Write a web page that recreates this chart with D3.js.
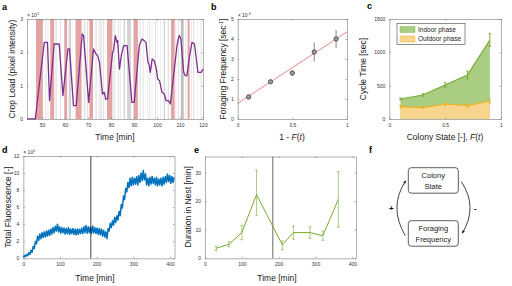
<!DOCTYPE html>
<html>
<head>
<meta charset="utf-8">
<script src="https://cdn.jsdelivr.net/npm/d3@7"></script>
<style>
  body { margin: 0; background: #fff; }
  svg { display: block; font-family: "Liberation Sans", Arial, sans-serif; }
</style>
</head>
<body>
<script>
// ***** DATA *****

// a: crop load over time (x10^5)
const cropTime = [43.5, 47.1, 51.0, 52.4, 53.3, 55.3, 57.5, 59.1, 61.3, 62.0, 63.7, 64.9, 67.5, 68.1, 70.3, 72.4,
  73.5, 74.2, 75.0, 76.3, 77.1, 77.7, 78.5, 80.7, 81.1, 81.9, 82.6, 82.9, 83.7, 84.5, 85.5, 87.0, 89.1, 90.1,
  92.3, 93.5, 94.5, 95.2, 96.1, 96.5, 97.1, 97.9, 98.8, 99.7, 100.3, 101.1, 102.2, 103.2, 103.9, 105.0, 105.8,
  108.7, 109.4, 109.8, 110.4, 111.6, 112.3, 113.0, 114.2, 115.2, 116.3, 117.8, 119.2, 120];
const cropLoad = [0, 0, 2.3, 2.3, 0.55, 2.25, 2.25, 0.7, 2.1, 2.1, 0.4, 0.4, 2.55, 2.5, 0.5, 2.1,
  1.95, 1.9, 1.7, 0.75, 0.8, 0.6, 0.6, 2.0, 2.05, 2.5, 2.3, 2.35, 1.5, 1.9, 2.2, 2.2, 0.5, 0.5,
  2.2, 2.4, 2.35, 2.3, 1.7, 1.65, 1.4, 1.8, 1.75, 1.5, 1.2, 1.15, 0.8, 0.75, 0.55, 0.55, 0.45,
  2.2, 2.45, 2.5, 2.4, 1.4, 1.3, 1.3, 1.9, 2.3, 2.25, 1.4, 1.4, 1.5];
const outdoorBands = [[47.4, 50.4], [53.6, 55.3], [59.7, 60.9], [64.6, 67.2], [70.6, 72.2], [78.3, 80.6],
  [89.8, 91.7], [106.1, 107.7], [113.3, 114.2]];
// [start, end, shade]
const otherBands = [[51.6, 51.9, 1], [52.5, 52.8, 0], [55.8, 56.5, 0], [57.9, 58.2, 1], [61.6, 62.6, 1],
  [62.9, 63.2, 0], [68.1, 69.0, 0], [69.7, 70.0, 1], [73.2, 73.9, 0], [74.7, 75.0, 1], [75.3, 76.2, 0],
  [76.7, 77.0, 1], [81.1, 81.9, 0], [83.2, 83.5, 1], [83.9, 84.2, 0], [85.5, 86.1, 1], [87.0, 88.7, 1],
  [92.4, 93.0, 0], [93.8, 94.1, 1], [95.6, 95.9, 0], [96.7, 97.0, 1], [97.7, 98.0, 0], [99.2, 99.5, 1],
  [99.9, 100.2, 0], [101.3, 101.6, 0], [102.9, 103.5, 1], [104.2, 104.5, 0], [104.9, 105.2, 1],
  [108.0, 108.4, 0], [109.3, 109.6, 1], [110.4, 111.6, 2], [112.3, 112.7, 0], [114.8, 115.2, 0],
  [115.8, 116.1, 1], [117.6, 117.9, 0], [119.0, 119.3, 1]];
const cropTicksX = [50, 60, 70, 80, 90, 100, 110, 120];
const cropTicksY = [0, 1, 2, 3];

// b: foraging frequency (x10^-3) vs 1 - F(t)
const freqState = [0.1, 0.3, 0.5, 0.7, 0.9];
const freqValue = [1.1, 1.86, 2.3, 3.35, 4.0];
const freqErr = [0.1, 0.1, 0.15, 0.47, 0.45];
const fitEnds = [[0, 0.78], [1, 4.36]];

// c: cycle time
const cycleState = [0.1, 0.3, 0.5, 0.7, 0.9];
const indoorTime = [300, 360, 510, 660, 1185];
const indoorErr = [15, 20, 35, 60, 95];
const outdoorTime = [185, 170, 225, 200, 270];
const outdoorErr = [20, 15, 25, 25, 30];

// d: total fluorescence (x10^5), one sample every 3 min from t = 0
const fluorStep = 3;
const fluorValues = [0.1, 0.35, 0.2, 0.45, 0.3, 0.65, 0.45, 0.95, 0.7, 1.4, 1.15, 2.0, 1.7, 2.6, 2.1, 2.85,
  2.3, 3.0, 2.45, 3.1, 2.5, 3.2, 2.6, 3.3, 2.7, 3.45, 2.85, 3.6, 3.0, 3.75, 3.2, 4.0, 3.1, 3.7, 2.95, 3.6,
  3.0, 3.55, 2.85, 3.5, 2.9, 3.6, 2.8, 3.45, 2.9, 3.5, 2.8, 3.4, 2.75, 3.45, 2.8, 3.4, 2.9, 3.55, 2.9, 3.7,
  3.0, 3.85, 2.95, 3.7, 3.0, 3.65, 2.9, 3.8, 3.0, 3.6, 2.9, 3.55, 2.8, 3.5, 2.75, 3.45, 2.6, 3.3, 2.5, 3.1,
  2.3, 3.5, 3.2, 4.1, 3.6, 4.4, 3.9, 4.8, 4.2, 5.0, 4.5, 5.5, 5.0, 6.3, 5.9, 7.3, 6.9, 8.2, 7.8, 8.9,
  8.3, 9.4, 8.5, 9.5, 8.6, 9.4, 8.7, 9.6, 8.6, 9.7, 8.9, 10.0, 9.1, 10.3, 9.2, 9.9, 8.6, 9.4, 8.5, 9.5,
  8.7, 9.6, 8.8, 9.4, 8.6, 9.5, 8.5, 9.3, 8.6, 9.4, 8.5, 9.5, 8.7, 9.6, 8.9, 9.9, 9.0, 9.7, 8.8, 9.6,
  8.9, 9.5];
const switchTime = 184;

// e: duration in nest
const nestTime = [30, 65, 100, 140, 210, 240, 285, 320, 362];
const nestDur = [3.5, 4.9, 9.0, 22.3, 4.7, 9.0, 9.0, 7.9, 20.6];
const nestLo = [2.7, 4.0, 6.5, 14.9, 3.0, 6.7, 7.0, 6.3, 10.9];
const nestHi = [4.3, 5.8, 11.5, 30.8, 6.1, 11.3, 11.0, 9.5, 30.3];

// ***** STYLE *****
const axisColor = '#7a7a7a';
const tickTextColor = '#333';
const purple = '#7e2f8e';
const blue = '#0072bd';
const green = '#77ac30';
const orange = '#edb120';
const shades = ['#e8e8e8', '#d4d4d4', '#bdbdbd'];

const svg = d3.select('body').append('svg').attr('width', 512).attr('height', 286);
svg.append('rect').attr('width', 512).attr('height', 286).attr('fill', '#fff');

function drawAxes(g, x, y, xTicks, yTicks) {
  const tick = 1.6;
  const [xl, xr] = x.range();
  const [yb, yt] = y.range();
  const styleAxis = (sel) => {
    sel.attr('font-size', null).attr('font-family', null);
    sel.selectAll('.domain, .tick line').attr('stroke', axisColor).attr('stroke-width', 0.6);
    sel.selectAll('text').attr('fill', tickTextColor).style('font-size', '5px');
  };
  g.append('g').attr('transform', `translate(0,${yb})`)
    .call(d3.axisBottom(x).tickValues(xTicks).tickSize(-tick).tickSizeOuter(0).tickPadding(4.5)
      .tickFormat(d3.format('')))
    .call(styleAxis);
  g.append('g').attr('transform', `translate(0,${yt})`)
    .call(d3.axisTop(x).tickValues(xTicks).tickSize(-tick).tickSizeOuter(0).tickFormat(''))
    .call(styleAxis);
  g.append('g').attr('transform', `translate(${xl},0)`)
    .call(d3.axisLeft(y).tickValues(yTicks).tickSize(-tick).tickSizeOuter(0).tickPadding(4)
      .tickFormat(d3.format('')))
    .call(styleAxis);
  g.append('g').attr('transform', `translate(${xr},0)`)
    .call(d3.axisRight(y).tickValues(yTicks).tickSize(-tick).tickSizeOuter(0).tickFormat(''))
    .call(styleAxis);
}

function addExponent(g, x, y, exp) {
  const t = g.append('text').attr('x', x).attr('y', y).attr('fill', tickTextColor).style('font-size', '5px');
  t.append('tspan').text('\u00d7 10');
  t.append('tspan').attr('dy', -2).style('font-size', '3.6px').text(exp);
}

function xLabel(g, x, y, text) {
  return g.append('text').attr('x', x).attr('y', y).attr('text-anchor', 'middle')
    .style('font-size', '8.5px').attr('fill', '#222').text(text);
}

function yLabel(g, x, y, text) {
  return g.append('text').attr('transform', `translate(${x},${y}) rotate(-90)`)
    .attr('text-anchor', 'middle').attr('dy', '0.35em')
    .style('font-size', '8.5px').attr('fill', '#222').text(text);
}

function panelLetter(x, y, letter) {
  svg.append('text').attr('x', x).attr('y', y).style('font-size', '9px').style('font-weight', 'bold')
    .text(letter);
}

// ***** PANEL A *****
{
  const g = svg.append('g');
  const x = d3.scaleLinear().domain([43.5, 120]).range([27, 203]);
  const y = d3.scaleLinear().domain([0, 3]).range([119, 19]);
  g.selectAll('.gray-band').data(otherBands).enter().append('rect')
    .attr('x', d => x(d[0])).attr('width', d => x(d[1]) - x(d[0]))
    .attr('y', y(3)).attr('height', y(0) - y(3)).attr('fill', d => shades[d[2]]);
  g.selectAll('.red-band').data(outdoorBands).enter().append('rect')
    .attr('x', d => x(d[0])).attr('width', d => x(d[1]) - x(d[0]))
    .attr('y', y(3)).attr('height', y(0) - y(3)).attr('fill', '#e4a3a3');
  g.append('path').datum(d3.zip(cropTime, cropLoad))
    .attr('d', d3.line().x(d => x(d[0])).y(d => y(d[1])))
    .attr('fill', 'none').attr('stroke', purple).attr('stroke-width', 1.3).attr('stroke-linejoin', 'round');
  drawAxes(g, x, y, cropTicksX, cropTicksY);
  addExponent(g, 27, 16.5, '5');
  yLabel(g, 12, 69, 'Crop Load (pixel intensity)');
  xLabel(g, 115, 139.5, 'Time [min]');
  panelLetter(2, 10, 'a');
}

// ***** PANEL B *****
{
  const g = svg.append('g');
  const x = d3.scaleLinear().domain([0, 1]).range([237.7, 347]);
  const y = d3.scaleLinear().domain([0, 5]).range([119, 19]);
  g.append('path').datum(fitEnds)
    .attr('d', d3.line().x(d => x(d[0])).y(d => y(d[1])))
    .attr('stroke', '#e06a6a').attr('stroke-width', 0.8).attr('fill', 'none');
  const pts = d3.zip(freqState, freqValue, freqErr);
  g.selectAll('.err').data(pts).enter().append('path')
    .attr('d', d => `M${x(d[0])},${y(d[1] - d[2])}V${y(d[1] + d[2])}`)
    .attr('stroke', '#333').attr('stroke-width', 0.6);
  g.selectAll('.pt').data(pts).enter().append('circle')
    .attr('cx', d => x(d[0])).attr('cy', d => y(d[1])).attr('r', 2.2)
    .attr('fill', '#9a9a9a').attr('stroke', '#333').attr('stroke-width', 0.7);
  drawAxes(g, x, y, [0, 0.5, 1], [0, 1, 2, 3, 4, 5]);
  addExponent(g, 237.7, 16.5, '-3');
  const yl = yLabel(g, 223, 69, 'Foraging Frequency [sec');
  yl.append('tspan').attr('dy', -2.5).style('font-size', '5px').text('-1');
  yl.append('tspan').attr('dy', 2.5).text(']');
  const xl = xLabel(g, 292, 139.5, '1 - ');
  xl.append('tspan').style('font-style', 'italic').text('F');
  xl.append('tspan').text('(');
  xl.append('tspan').style('font-style', 'italic').text('t');
  xl.append('tspan').text(')');
  panelLetter(211, 10, 'b');
}

// ***** PANEL C *****
{
  const g = svg.append('g');
  const x = d3.scaleLinear().domain([0, 1]).range([389.3, 501]);
  const y = d3.scaleLinear().domain([0, 1500]).range([119, 19]);
  const area = d3.area().x(d => x(d[0])).y0(y(0)).y1(d => y(d[1]));
  const line = d3.line().x(d => x(d[0])).y(d => y(d[1]));
  const indoor = d3.zip(cycleState, indoorTime, indoorErr);
  const outdoor = d3.zip(cycleState, outdoorTime, outdoorErr);
  g.append('path').datum(indoor).attr('d', area).attr('fill', '#aacd84');
  g.append('path').datum(outdoor).attr('d', area).attr('fill', '#f7d58c');
  [[indoor, green], [outdoor, orange]].forEach(([data, color]) => {
    g.append('path').datum(data).attr('d', line).attr('fill', 'none')
      .attr('stroke', color).attr('stroke-width', 1.2);
    g.selectAll(null).data(data).enter().append('path')
      .attr('d', d => `M${x(d[0])},${y(d[1] - d[2])}V${y(d[1] + d[2])}`
        + `M${x(d[0]) - 1.3},${y(d[1] - d[2])}h2.6M${x(d[0]) - 1.3},${y(d[1] + d[2])}h2.6`)
      .attr('stroke', color).attr('stroke-width', 0.9).attr('fill', 'none');
  });
  drawAxes(g, x, y, [0, 0.5, 1], [0, 500, 1000, 1500]);
  const lg = g.append('g').attr('transform', 'translate(397,23.5)');
  lg.append('rect').attr('width', 68).attr('height', 21).attr('fill', '#fff')
    .attr('stroke', '#444').attr('stroke-width', 0.6);
  [['Indoor phase', '#aacd84', green], ['Outdoor phase', '#f7d58c', orange]].forEach(([name, fill, edge], i) => {
    lg.append('rect').attr('x', 3).attr('y', 3 + i * 9.5).attr('width', 15).attr('height', 6)
      .attr('fill', fill).attr('stroke', edge).attr('stroke-width', 0.4);
    lg.append('text').attr('x', 21).attr('y', 8.3 + i * 9.5).style('font-size', '6.5px')
      .attr('fill', '#222').text(name);
  });
  yLabel(g, 363, 69, 'Cycle Time [sec]');
  const xl = xLabel(g, 445, 140, 'Colony State [-],  ');
  xl.append('tspan').style('font-style', 'italic').text('F');
  xl.append('tspan').text('(');
  xl.append('tspan').style('font-style', 'italic').text('t');
  xl.append('tspan').text(')');
  panelLetter(367, 9, 'c');
}

// ***** PANEL D *****
{
  const g = svg.append('g');
  const x = d3.scaleLinear().domain([0, 412]).range([23.3, 174.5]);
  const y = d3.scaleLinear().domain([0, 12]).range([258.3, 156]);
  g.append('path').datum(fluorValues)
    .attr('d', d3.line().x((d, i) => x(i * fluorStep)).y(d => y(d)))
    .attr('fill', 'none').attr('stroke', blue).attr('stroke-width', 1.5).attr('stroke-linejoin', 'round');
  g.append('line').attr('x1', x(switchTime)).attr('x2', x(switchTime)).attr('y1', y(0)).attr('y2', y(12))
    .attr('stroke', '#111').attr('stroke-width', 0.8);
  drawAxes(g, x, y, [0, 100, 200, 300, 400], [0, 2, 4, 6, 8, 10, 12]);
  addExponent(g, 23.3, 153.5, '5');
  yLabel(g, 8, 207, 'Total Fluorescence [-]');
  xLabel(g, 95, 280.5, 'Time [min]');
  panelLetter(2, 152.5, 'd');
}

// ***** PANEL E *****
{
  const g = svg.append('g');
  const x = d3.scaleLinear().domain([0, 410]).range([205, 356]);
  const y = d3.scaleLinear().domain([0, 35.6]).range([258.3, 156.5]);
  g.append('line').attr('x1', x(switchTime)).attr('x2', x(switchTime)).attr('y1', y(0)).attr('y2', y(35.6))
    .attr('stroke', '#8a8a8a').attr('stroke-width', 1.3);
  const pts = d3.zip(nestTime, nestDur, nestLo, nestHi);
  g.selectAll('.err').data(pts).enter().append('path')
    .attr('d', d => `M${x(d[0])},${y(d[2])}V${y(d[3])}`
      + `M${x(d[0]) - 1.5},${y(d[2])}h3M${x(d[0]) - 1.5},${y(d[3])}h3`)
    .attr('stroke', '#94c060').attr('stroke-width', 0.8).attr('fill', 'none');
  g.append('path').datum(pts)
    .attr('d', d3.line().x(d => x(d[0])).y(d => y(d[1])))
    .attr('fill', 'none').attr('stroke', green).attr('stroke-width', 1);
  drawAxes(g, x, y, [0, 100, 200, 300, 400], [0, 10, 20, 30]);
  yLabel(g, 188, 207, 'Duration in Nest [min]');
  xLabel(g, 277, 280.5, 'Time [min]');
  panelLetter(194, 152.5, 'e');
}

// ***** PANEL F *****
{
  const g = svg.append('g');
  const boxes = [
    { lines: ['Colony', 'State'], x: 408.3, y: 167.7 },
    { lines: ['Foraging', 'Frequency'], x: 408.3, y: 220.7 },
  ];
  const boxW = 50;
  const boxH = 25.5;
  g.append('defs').append('marker').attr('id', 'arrow')
    .attr('viewBox', '0 0 10 10').attr('refX', 9).attr('refY', 5)
    .attr('markerWidth', 4).attr('markerHeight', 4).attr('orient', 'auto')
    .append('path').attr('d', 'M0,1L10,5L0,9z').attr('fill', '#111');
  boxes.forEach((b) => {
    g.append('rect').attr('x', b.x).attr('y', b.y).attr('width', boxW).attr('height', boxH)
      .attr('rx', 3).attr('fill', '#fff').attr('stroke', '#333').attr('stroke-width', 0.8);
    b.lines.forEach((t, i) => {
      g.append('text').attr('x', b.x + boxW / 2).attr('y', b.y + 10.5 + i * 10.5)
        .attr('text-anchor', 'middle').style('font-size', '7.5px').attr('fill', '#222').text(t);
    });
  });
  const top = boxes[0];
  const bottom = boxes[1];
  // left arc: frequency -> state (+), right arc: state -> frequency (-)
  const leftPath = d3.path();
  leftPath.moveTo(top.x - 3, bottom.y + 15);
  leftPath.quadraticCurveTo(top.x - 20, (top.y + bottom.y + boxH) / 2, top.x - 2.5, top.y + 13);
  const rightPath = d3.path();
  rightPath.moveTo(top.x + boxW + 3, top.y + 14);
  rightPath.quadraticCurveTo(top.x + boxW + 20, (top.y + bottom.y + boxH) / 2, top.x + boxW + 4, bottom.y + 12.5);
  [leftPath, rightPath].forEach((p) => {
    g.append('path').attr('d', p.toString()).attr('fill', 'none').attr('stroke', '#111')
      .attr('stroke-width', 0.8).attr('marker-end', 'url(#arrow)');
  });
  g.append('text').attr('x', top.x - 17).attr('y', 211).attr('text-anchor', 'middle')
    .style('font-size', '8px').style('font-weight', 'bold').text('+');
  g.append('text').attr('x', top.x + boxW + 17).attr('y', 211).attr('text-anchor', 'middle')
    .style('font-size', '8px').style('font-weight', 'bold').text('-');
  panelLetter(369, 152.5, 'f');
}
</script>
</body>
</html>
